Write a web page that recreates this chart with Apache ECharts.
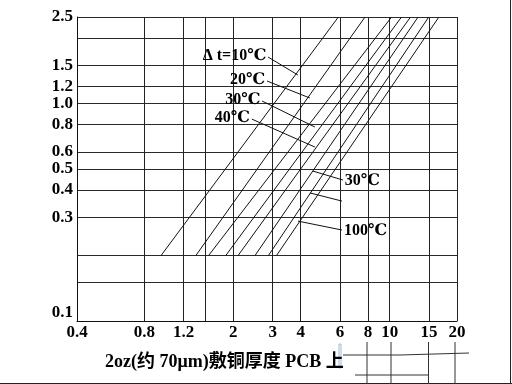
<!DOCTYPE html>
<html><head><meta charset="utf-8">
<script src="https://cdn.jsdelivr.net/npm/echarts@6/dist/echarts.min.js"></script>
<style>html,body{margin:0;padding:0;background:#fff}#c{width:512px;height:384px}</style>
</head><body><div id="c"></div>
<script>
// axis grid / tick values
const xGridValues = [0.4, 0.8, 1.2, 1.5, 2, 3, 4, 6, 8, 10, 15, 20];
const xTickValues = [0.4, 0.8, 1.2, 2, 3, 4, 6, 8, 10, 15, 20];
const xTickTexts = ['0.4', '0.8', '1.2', '2', '3', '4', '6', '8', '10', '15', '20'];
const yGridValues = [0.1, 0.15, 0.2, 0.3, 0.4, 0.5, 0.6, 0.8, 1.0, 1.2, 1.5, 2.0, 2.5];
const yTickValues = [0.1, 0.3, 0.4, 0.5, 0.6, 0.8, 1.0, 1.2, 1.5, 2.5];
const yTickTexts = ['0.1', '0.3', '0.4', '0.5', '0.6', '0.8', '1.0', '1.2', '1.5', '2.5'];

// curves: temperature rise, current at width 0.2 and at width 2.5
const deltaT = [10, 20, 30, 40, 50, 60, 80, 100];
const widthStart = 0.2;
const widthEnd = 2.5;
const currentAtStart = [0.95, 1.36, 1.55, 1.85, 2.10, 2.50, 2.87, 3.12];
const currentAtEnd = [5.90, 7.76, 10.2, 11.3, 12.4, 13.4, 14.95, 16.6];

// callout leaders (data coordinates)
const leaderTexts = ['Δ t=10℃', '20℃', '30℃', '40℃', '30℃', '', '100℃'];
const leaderSide = ['start', 'start', 'start', 'start', 'end', 'end', 'end'];
const leaderFrom = [[2.86, 1.636], [2.83, 1.269], [2.69, 1.027], [2.42, 0.848], [4.54, 0.489], [4.40, 0.388], [3.89, 0.288]];
const leaderTo = [[3.89, 1.352], [4.40, 1.060], [4.63, 0.780], [4.63, 0.631], [6.18, 0.445], [6.12, 0.356], [6.12, 0.262]];

const xTitle = '2oz(约 70μm)敷铜厚度 PCB 上';

const FONT = '"Liberation Serif", "DejaVu Serif", "Noto Sans CJK SC", serif';
function lookup(vals, texts, v) {
  for (let i = 0; i < vals.length; i++) {
    if (Math.abs(vals[i] - v) < 1e-6 * vals[i]) return texts[i];
  }
  return '';
}

const chart = echarts.init(document.getElementById('c'), null, {renderer: 'canvas'});

const series = deltaT.map((t, i) => ({
  name: t + '℃',
  type: 'line',
  data: [[currentAtStart[i], widthStart], [currentAtEnd[i], widthEnd]],
  symbol: 'none',
  silent: true,
  lineStyle: {color: '#111', width: 1},
  z: 3
}));

series.push({
  type: 'line',
  data: [],
  silent: true,
  markLine: {
    silent: true,
    symbol: ['none', 'none'],
    lineStyle: {color: '#111', width: 1, type: 'solid'},
    data: leaderFrom.map((f, i) => [
      {coord: f, label: {show: !!leaderTexts[i], position: leaderSide[i], formatter: leaderTexts[i], distance: 2,
        color: '#000', fontSize: 16, fontFamily: FONT, fontWeight: 'bold'}},
      {coord: leaderTo[i]}
    ])
  }
});

const axisLabelBase = {color: '#000', fontSize: 17, fontFamily: FONT, fontWeight: 'bold'};

chart.setOption({
  animation: false,
  backgroundColor: '#fff',
  title: {
    text: xTitle, left: 100, top: 348,
    textStyle: {color: '#000', fontSize: 18, fontFamily: FONT, fontWeight: 'bold'}
  },
  grid: {left: 77, right: 55, top: 17, bottom: 63, containLabel: false, outerBoundsMode: 'none'},
  xAxis: {
    type: 'log', logBase: 10, min: 0.4, max: 20,
    axisLine: {show: true, lineStyle: {color: '#111', width: 1}},
    axisTick: {show: false, customValues: xGridValues},
    splitLine: {show: true, lineStyle: {color: '#222', width: 1}},
    minorTick: {show: false}, minorSplitLine: {show: false},
    axisLabel: Object.assign({}, axisLabelBase, {
      customValues: xTickValues, margin: 3,
      formatter: v => lookup(xTickValues, xTickTexts, v)
    })
  },
  yAxis: {
    type: 'log', logBase: 10, min: 0.1, max: 2.5,
    axisLine: {show: true, lineStyle: {color: '#111', width: 1}},
    axisTick: {show: false, customValues: yGridValues},
    splitLine: {show: true, lineStyle: {color: '#2a2a2a', width: 1}},
    minorTick: {show: false}, minorSplitLine: {show: false},
    axisLabel: Object.assign({}, axisLabelBase, {
      customValues: yTickValues, margin: 4,
      verticalAlignMinLabel: 'bottom',
      formatter: v => lookup(yTickValues, yTickTexts, v)
    })
  },
  series: series,
  graphic: [
    {type: 'line', shape: {x1: 510.5, y1: 0, x2: 510.5, y2: 384}, style: {stroke: '#222', lineWidth: 1}, silent: true},
    {type: 'line', shape: {x1: 0, y1: 383.5, x2: 512, y2: 383.5}, style: {stroke: '#222', lineWidth: 1}, silent: true},
    {type: 'polyline', shape: {points: [[343, 355], [400, 355], [469, 353]]}, style: {stroke: '#333', lineWidth: 1, fill: null}, silent: true},
    {type: 'line', shape: {x1: 355, y1: 375, x2: 429, y2: 375}, style: {stroke: '#333', lineWidth: 1}, silent: true},
    {type: 'line', shape: {x1: 367, y1: 342, x2: 367, y2: 384}, style: {stroke: '#333', lineWidth: 1}, silent: true},
    {type: 'line', shape: {x1: 391, y1: 342, x2: 391, y2: 384}, style: {stroke: '#333', lineWidth: 1}, silent: true},
    {type: 'line', shape: {x1: 428.5, y1: 342, x2: 428.5, y2: 384}, style: {stroke: '#333', lineWidth: 1}, silent: true},
    {type: 'line', shape: {x1: 455, y1: 342, x2: 455, y2: 384}, style: {stroke: '#333', lineWidth: 1}, silent: true},
    {type: 'rect', shape: {x: 339, y: 344, width: 2, height: 24}, style: {stroke: '#9bbbd6', fill: null, lineWidth: 1}, silent: true}
  ]
});
</script>
</body></html>
